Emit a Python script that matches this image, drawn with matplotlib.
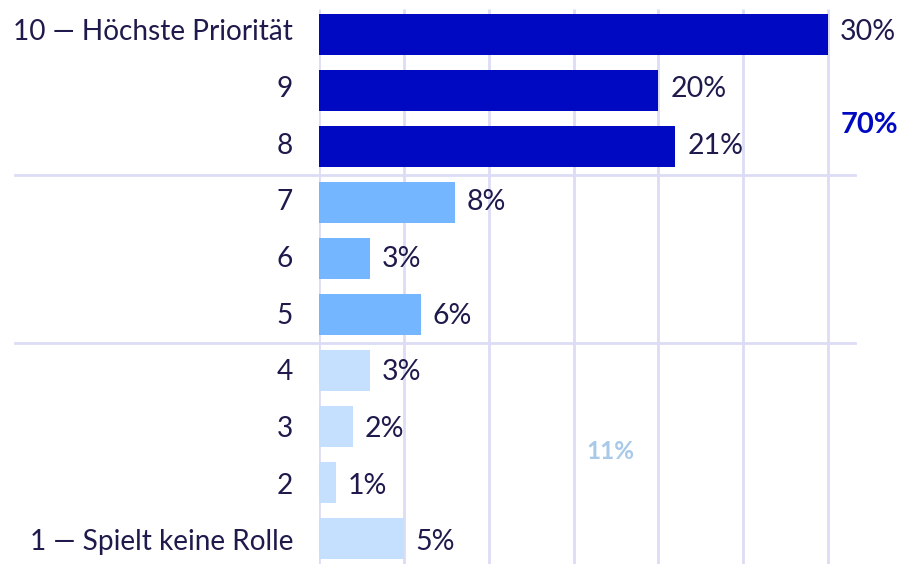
import matplotlib.pyplot as plt

categories = ["10 — Höchste Priorität", "9", "8", "7", "6", "5", "4", "3", "2", "1 — Spielt keine Rolle"]
values = [30, 20, 21, 8, 3, 6, 3, 2, 1, 5]
groups = [0, 0, 0, 1, 1, 1, 2, 2, 2, 2]
group_colors = ["#0009c2", "#74b6ff", "#c5e0ff"]
group_totals = ["70%", None, "11%"]
group_total_colors = ["#0009c2", None, "#a9c9e9"]

TEXT = "#1e1a4c"
GRID = "#dcdcf4"
FONT = "Lato"

# pixel geometry of the reference
PX_PER_PCT = 16.97
X0_PX = 319
W, H = 902, 564

fig = plt.figure(figsize=(W / 100, H / 100), dpi=100)
ax = fig.add_axes([X0_PX / W, 0, 1 - X0_PX / W, 1])
ax.set_xlim(0, (W - X0_PX) / PX_PER_PCT)
ax.set_ylim((H - 34.5) / 56, -34.5 / 56)
ax.axis("off")

ypos = list(range(len(categories)))

# vertical grid
for gx in range(0, 31, 5):
    ax.vlines(gx, -0.455, 9.6, color=GRID, lw=2, zorder=0)

# group separators
for sep in [2.5, 5.5]:
    ax.plot([(15 - X0_PX) / PX_PER_PCT, (855 - X0_PX) / PX_PER_PCT], [sep, sep],
            color=GRID, lw=2, clip_on=False, zorder=0)

ax.barh(ypos, values, height=41 / 56, color=[group_colors[g] for g in groups], zorder=2)

for y, v, lab in zip(ypos, values, categories):
    # labels drift a little: top rows sit slightly high, bottom row slightly low
    dy = -0.04 + 0.012 * y
    ax.text(v + 0.7, y + dy, f"{v}%", va="center", ha="left", fontsize=20.5,
            color=TEXT, family=FONT, zorder=3)
    ax.text(-26 / PX_PER_PCT, y + dy, lab, va="center", ha="right", fontsize=20.2,
            color=TEXT, family=FONT, clip_on=False)

# group totals
ax.text(32.44, 1.62, group_totals[0], va="center", ha="center", fontsize=21,
        fontweight="bold", color=group_total_colors[0], family=FONT)
ax.text(17.15, 7.44, group_totals[2], va="center", ha="center", fontsize=17.5,
        fontweight="bold", color=group_total_colors[2], family=FONT)

fig.savefig("out.png", dpi=100)
